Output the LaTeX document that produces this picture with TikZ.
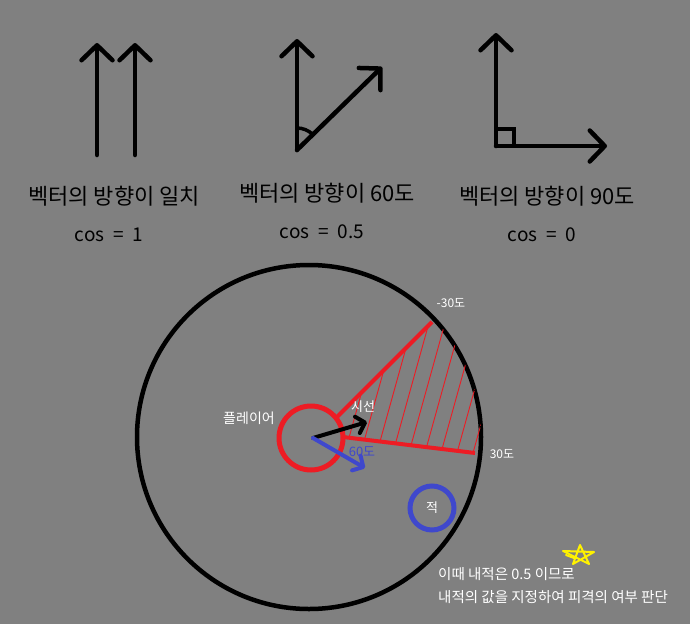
\documentclass[tikz,border=0pt]{standalone}
\usepackage{fontspec}
\setmainfont{Noto Sans CJK KR}
\usetikzlibrary{arrows.meta}
\definecolor{bggray}{RGB}{128,128,128}
\definecolor{pred}{RGB}{237,28,36}
\definecolor{pblue}{RGB}{63,72,204}
\definecolor{pyellow}{RGB}{255,242,0}
\newcommand{\wsp}{\hspace{0.46em}}
\begin{document}
\begin{tikzpicture}[x=1pt,y=-1pt,
  vec/.style={line width=4.5pt, line cap=round, -{Straight Barb[length=15pt,width=31pt,round]}},
  smallvec/.style={line width=4pt, line cap=round, -{Straight Barb[length=8pt,width=17pt,round]}},
  lbl/.style={font=\fontsize{22}{22}\selectfont, inner sep=0pt},
  cosl/.style={font=\fontsize{19}{19}\selectfont, inner sep=0pt},
  small/.style={font=\fontsize{13}{13}\selectfont, text=white, inner sep=0pt},
  tiny/.style={font=\fontsize{12}{12}\selectfont, text=white, inner sep=0pt},
  note/.style={font=\fontsize{14.5}{14.5}\selectfont, text=white, inner sep=0pt, anchor=west},
]
\fill[bggray] (0,0) rectangle (690,624);
\useasboundingbox (0,0) rectangle (690,624);

% panel 1
\coordinate (a1s) at (97,155); \coordinate (a1e) at (97,43);
\coordinate (a2s) at (135,155); \coordinate (a2e) at (135,43);
\draw[vec] (a1s) -- (a1e);
\draw[vec] (a2s) -- (a2e);

% panel 2
\coordinate (b0) at (297,150); \coordinate (b1) at (297,39); \coordinate (b2) at (382,67);
\draw[vec] (b0) -- (b1);
\draw[vec] (b0) -- (b2);
\draw[line width=3.5pt] (297,128) .. controls (302.8,128) and (308.5,130.3) .. (312.6,134.4);

% panel 3
\coordinate (c0) at (496,146); \coordinate (c1) at (496,33); \coordinate (c2) at (607,146);
\draw[vec] (c0) -- (c1);
\draw[vec] (c0) -- (c2);
\draw[line width=3.5pt, line join=miter] (496,129) -- (514,129) -- (514,146);

% captions
\node[lbl] (t1) at (114,196) {벡터의 방향이 일치};
\node[cosl] (k1) at (109,235) {cos\wsp=\wsp1};
\node[lbl] (t2) at (327,193) {벡터의 방향이 60도};
\node[cosl] (k2) at (322,232) {cos\wsp=\wsp0.5};
\node[lbl] (t3) at (547,196) {벡터의 방향이 90도};
\node[cosl] (k3) at (542,235) {cos\wsp=\wsp0};

% big circle
\coordinate (O) at (309,437);
\draw[line width=4.5pt] (O) circle[radius=172pt];

% hatching
\begin{scope}
\clip (O) circle[radius=172pt];
\clip (337,417) -- (480,274) -- (540,461) -- (343,437) -- cycle;
\foreach \k in {-6,...,7}
  \draw[pred, line width=0.9pt] ({380+15.5*\k-60},{441.5+1.9*\k+216}) -- ++(120,-432);
\end{scope}

% view cone lines
\coordinate (r1a) at (337,417); \coordinate (r1b) at (432,322);
\coordinate (r2a) at (343,437); \coordinate (r2b) at (475,453);
\draw[pred, line width=4pt] (r1a) -- (r1b);
\draw[pred, line width=4pt] (r2a) -- (r2b);

% player
\coordinate (pc) at (311,438);
\draw[pred, line width=5pt] (pc) circle[radius=32pt];
\coordinate (P) at (313,438);
\coordinate (look) at (367,422);
\coordinate (sixty) at (365,468);
\draw[smallvec] (P) -- (look);
\draw[smallvec, pblue] (P) -- (sixty);

% labels
\node[small] (lsight) at (363,407) {시선};
\node[small, text=pblue] (l60) at (362,452) {60도};
\node[small, font=\fontsize{14}{14}\selectfont] (lplayer) at (249,418) {플레이어};
\node[tiny] (lm30) at (451,303) {-30도};
\node[tiny] (lp30) at (502,454) {30도};

% enemy
\coordinate (E) at (432,508);
\draw[pblue, line width=5pt] (E) circle[radius=22pt];
\node[small] (lenemy) at (E) {적};

% star doodle
\draw[pyellow, line width=2pt, line join=round, line cap=round]
  (573,564) -- (580,545) -- (589,564) -- (563,551) -- (594,552) -- (573,564);
\draw[pyellow, line width=2pt, line cap=round] (566,555) -- (574,558);

% notes
\node[note] (n1) at (438,574) {이때 내적은 0.5 이므로};
\node[note] (n2) at (438,597) {내적의 값을 지정하여 피격의 여부 판단};
\end{tikzpicture}
\end{document}
